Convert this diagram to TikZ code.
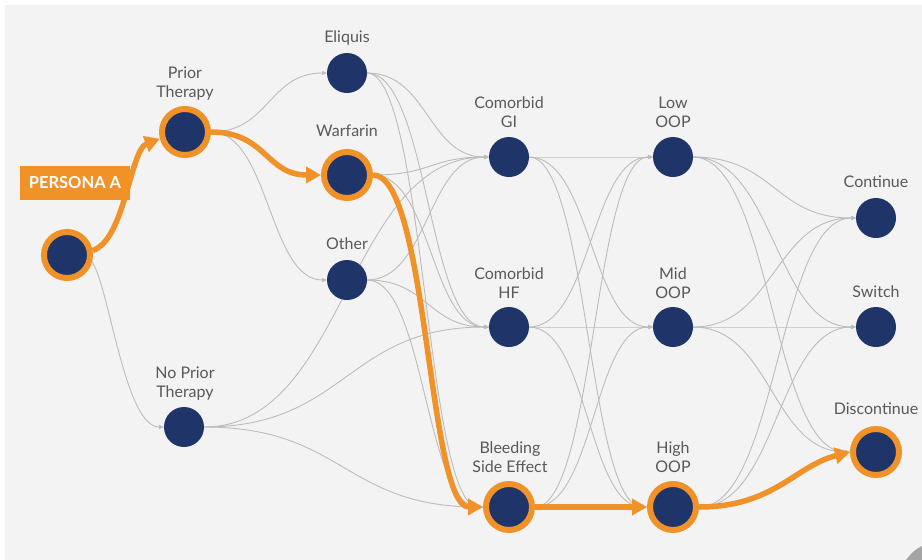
\documentclass[tikz,border=0pt]{standalone}
\usepackage{fontspec}
\setmainfont{Lato}
\usetikzlibrary{arrows.meta,calc}
\definecolor{navy}{RGB}{31,52,105}
\definecolor{orng}{RGB}{240,146,40}
\definecolor{bgc}{RGB}{243,243,243}
\definecolor{edgec}{RGB}{188,188,188}
\definecolor{txt}{RGB}{88,89,91}
\definecolor{curlc}{RGB}{165,165,165}
\pgfdeclarelayer{bglayer}
\pgfdeclarelayer{edgelayer}
\pgfsetlayers{bglayer,edgelayer,main}
\begin{document}
\begin{tikzpicture}[x=1pt,y=1pt,
  dot/.style={circle,fill=navy,minimum size=40pt,inner sep=0pt,outer sep=0pt},
  hot/.style={circle,fill=navy,draw=orng,line width=6pt,minimum size=46pt,inner sep=0pt},
  lbl/.style={font=\fontsize{16}{19}\selectfont,text=txt,align=center,inner sep=0pt},
  persona/.style={fill=orng,text=white,font=\bfseries\fontsize{16.5}{18}\selectfont,minimum width=110pt,minimum height=34pt,inner sep=0pt},
  edge/.style={draw=edgec,line width=0.9pt,-{Triangle[length=5pt,width=4pt]}},
  hedge/.style={draw=orng,line width=5.5pt,-{Triangle[length=15pt,width=16pt]}},
  hcurve/.style={to path={let \p1=(\tikztostart),\p2=(\tikztotarget),\n1={0.5*(\x2-\x1)} in .. controls ($(\p1)+(\n1,0)$) and ($(\p2)-(\n1,0)$) .. (\p2)}}
]
\useasboundingbox (0,0) rectangle (922,-560);
\begin{pgfonlayer}{bglayer}
\fill[bgc] (5,-5) rectangle (922,-560);
\fill[curlc] (906,-560) .. controls (912,-552) and (916,-549) .. (922,-546) -- (922,-560) -- cycle;
\end{pgfonlayer}

% circles
\node[hot] (start) at (67,-255) {};
\node[hot] (prior) at (185,-132) {};
\node[dot] (noprior) at (184,-427) {};
\node[dot] (eliq) at (347,-73) {};
\node[hot] (warf) at (347,-175) {};
\node[dot] (other) at (347,-280) {};
\node[dot] (gi) at (509,-157) {};
\node[dot] (hf) at (509,-327) {};
\node[hot] (bleed) at (509,-507) {};
\node[dot] (low) at (673,-157) {};
\node[dot] (mid) at (673,-327) {};
\node[hot] (high) at (673,-507) {};
\node[dot] (cont) at (876,-218) {};
\node[dot] (sw) at (876,-327) {};
\node[hot] (disc) at (876,-452) {};

% labels
\node[lbl] (lprior) at (185,-84) {Prior\\Therapy};
\node[lbl] (lnoprior) at (185,-384) {No Prior\\Therapy};
\node[lbl] (leliq) at (347,-38) {Eliquis};
\node[lbl] (lwarf) at (347,-131) {Warfarin};
\node[lbl] (lother) at (347,-244) {Other};
\node[lbl] (lgi) at (509,-112) {Comorbid\\GI};
\node[lbl] (lhf) at (509,-283) {Comorbid\\HF};
\node[lbl] (lbleed) at (510,-457) {Bleeding\\Side Effect};
\node[lbl] (llow) at (673,-112) {Low\\OOP};
\node[lbl] (lmid) at (673,-283) {Mid\\OOP};
\node[lbl] (lhigh) at (673,-457) {High\\OOP};
\node[lbl] (lcont) at (876,-182) {Continue};
\node[lbl] (lsw) at (876,-292) {Switch};
\node[lbl] (ldisc) at (876,-409) {Discontinue};

\node[persona] (persona) at (75,-183) {PERSONA A};

\begin{pgfonlayer}{edgelayer}
% grey connectors
\draw[edge] (start.-15) .. controls (110,-290) and (125,-427) .. (noprior.west);
\foreach \t in {eliq,other} \draw[edge] (prior.east) to[hcurve] (\t.west);
\foreach \s in {eliq,other,noprior} \foreach \t in {gi,hf,bleed} \draw[edge] (\s.east) to[hcurve] (\t.west);
\foreach \t in {gi,hf} \draw[edge] (warf.east) to[hcurve] (\t.west);
\foreach \s in {gi,hf} \foreach \t in {low,mid,high} \draw[edge] (\s.east) to[hcurve] (\t.west);
\foreach \t in {low,mid} \draw[edge] (bleed.east) to[hcurve] (\t.west);
\foreach \s in {low,mid} \foreach \t in {cont,sw,disc} \draw[edge] (\s.east) to[hcurve] (\t.west);
\foreach \t in {cont,sw} \draw[edge] (high.east) to[hcurve] (\t.west);
% orange path
\draw[hedge] (start.10) .. controls (125,-240) and (130,-150) .. (prior.195);
\draw[hedge] (prior.east) to[hcurve] (warf.west);
\draw[hedge] (warf.east) to[hcurve] (bleed.west);
\draw[hedge] (bleed.east) -- (high.west);
\draw[hedge] (high.east) .. controls ($(high.east)+(75,0)$) and ($(disc.west)+(-55,-14)$) .. (disc.west);
\end{pgfonlayer}
\end{tikzpicture}
\end{document}
